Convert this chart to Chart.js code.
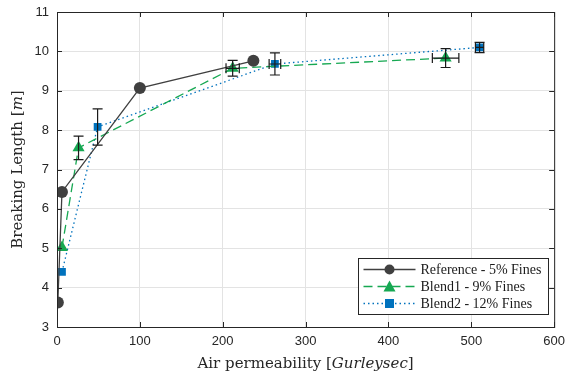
<!DOCTYPE html>
<html lang="en">
<head>
<meta charset="UTF-8">
<title>Breaking length vs air permeability</title>
<script src="https://cdn.jsdelivr.net/npm/chart.js"></script>
<style>
  body { margin: 0; background: #fff; }
  #wrap { width: 572px; height: 375px; }
</style>
</head>
<body>
<div id="wrap"><canvas id="myChart" width="572" height="375"></canvas></div>
<script>
// data
var seriesNames = ['Reference - 5% Fines', 'Blend1 - 9% Fines', 'Blend2 - 12% Fines'];

var refX = [1, 6, 100, 237];
var refY = [3.62, 6.43, 9.07, 9.76];

var b1X = [6, 26, 212, 469];
var b1Y = [5.02, 7.55, 9.57, 9.83];
var b1YErr = [0, 0.3, 0.2, 0.24];
var b1XErr = [0, 0, 8, 16];

var b2X = [6, 49, 263, 510];
var b2Y = [4.4, 8.08, 9.68, 10.1];
var b2YErr = [0, 0.46, 0.28, 0.13];
var b2XErr = [0, 0, 7, 5];

var xTicks = [0, 100, 200, 300, 400, 500, 600];
var yTicks = [3, 4, 5, 6, 7, 8, 9, 10, 11];

function pts(xs, ys) {
    return xs.map(function(x, i) { return { x: x, y: ys[i] }; });
}

var colors = ['#404040', '#16a852', '#0072bd'];
var dashes = [[], [9, 5], [1.5, 3]];
var shapes = ['circle', 'triangle', 'rect'];
var radii = [6, 7, 5.5];

// error bars drawn through the scales
var errorBars = {
    id: 'errorBars',
    afterDatasetsDraw: function(chart) {
        var c = chart.ctx, xs = chart.scales.x, ys = chart.scales.y;
        var sets = [[b1X, b1Y, b1XErr, b1YErr], [b2X, b2Y, b2XErr, b2YErr]];
        c.save();
        c.strokeStyle = '#1a1a1a';
        c.lineWidth = 1.2;
        sets.forEach(function(s) {
            for (var i = 0; i < s[0].length; i++) {
                var px = xs.getPixelForValue(s[0][i]);
                var py = ys.getPixelForValue(s[1][i]);
                c.beginPath();
                if (s[3][i] > 0) {
                    var t = ys.getPixelForValue(s[1][i] + s[3][i]);
                    var b = ys.getPixelForValue(s[1][i] - s[3][i]);
                    c.moveTo(px, t); c.lineTo(px, b);
                    c.moveTo(px - 5, t); c.lineTo(px + 5, t);
                    c.moveTo(px - 5, b); c.lineTo(px + 5, b);
                }
                if (s[2][i] > 0) {
                    var l = xs.getPixelForValue(s[0][i] - s[2][i]);
                    var r = xs.getPixelForValue(s[0][i] + s[2][i]);
                    c.moveTo(l, py); c.lineTo(r, py);
                    c.moveTo(l, py - 5); c.lineTo(l, py + 5);
                    c.moveTo(r, py - 5); c.lineTo(r, py + 5);
                }
                c.stroke();
            }
        });
        c.restore();
    }
};

// box, inward ticks, axis titles, legend
var frame = {
    id: 'frame',
    afterDraw: function(chart) {
        var c = chart.ctx, a = chart.chartArea, xs = chart.scales.x, ys = chart.scales.y;
        c.save();
        c.strokeStyle = '#262626';
        c.lineWidth = 1;
        c.strokeRect(a.left + 0.5, a.top + 0.5, a.right - a.left, a.bottom - a.top);
        c.beginPath();
        xTicks.forEach(function(v) {
            var p = Math.round(xs.getPixelForValue(v)) + 0.5;
            c.moveTo(p, a.bottom); c.lineTo(p, a.bottom - 5);
            c.moveTo(p, a.top); c.lineTo(p, a.top + 5);
        });
        yTicks.forEach(function(v) {
            var p = Math.round(ys.getPixelForValue(v)) + 0.5;
            c.moveTo(a.left, p); c.lineTo(a.left + 5, p);
            c.moveTo(a.right, p); c.lineTo(a.right - 5, p);
        });
        c.stroke();

        // axis titles with italic units
        c.fillStyle = '#262626';
        c.textBaseline = 'alphabetic';
        var serif = '"DejaVu Serif", "Liberation Serif", serif';
        function mixed(parts, x, y) {
            var w = 0;
            parts.forEach(function(p) { c.font = p[1] + ' 15px ' + serif; w += c.measureText(p[0]).width; });
            var cx = x - w / 2;
            c.textAlign = 'left';
            parts.forEach(function(p) {
                c.font = p[1] + ' 15px ' + serif;
                c.fillText(p[0], cx, y);
                cx += c.measureText(p[0]).width;
            });
        }
        mixed([['Air permeability [', 'normal'], ['Gurleysec', 'italic'], [']', 'normal']],
              (a.left + a.right) / 2, 368);
        c.save();
        c.translate(22, (a.top + a.bottom) / 2);
        c.rotate(-Math.PI / 2);
        mixed([['Breaking Length [', 'normal'], ['m', 'italic'], [']', 'normal']], 0, 0);
        c.restore();

        // legend box
        var lx = 358.5, ly = 258.5, lw = 190, lh = 56;
        c.fillStyle = '#fff';
        c.fillRect(lx, ly, lw, lh);
        c.strokeStyle = '#262626';
        c.strokeRect(lx, ly, lw, lh);
        c.font = '14px "Liberation Serif", "DejaVu Serif", serif';
        c.textAlign = 'left';
        c.textBaseline = 'middle';
        for (var i = 0; i < 3; i++) {
            var yy = ly + 11 + i * 17;
            c.strokeStyle = colors[i];
            c.lineWidth = 1.3;
            c.setLineDash(dashes[i]);
            c.beginPath();
            c.moveTo(lx + 5, yy); c.lineTo(lx + 57, yy);
            c.stroke();
            c.setLineDash([]);
            c.fillStyle = colors[i];
            var mx = lx + 31;
            c.beginPath();
            if (i === 0) {
                c.arc(mx, yy, 5, 0, Math.PI * 2);
            } else if (i === 1) {
                c.moveTo(mx, yy - 6); c.lineTo(mx + 6, yy + 5); c.lineTo(mx - 6, yy + 5); c.closePath();
            } else {
                c.rect(mx - 4.5, yy - 4.5, 9, 9);
            }
            c.fill();
            c.fillStyle = '#1a1a1a';
            c.fillText(seriesNames[i], lx + 62, yy + 1);
        }
        c.restore();
    }
};

var datasets = [pts(refX, refY), pts(b1X, b1Y), pts(b2X, b2Y)].map(function(d, i) {
    return {
        label: seriesNames[i],
        data: d,
        showLine: true,
        borderColor: colors[i],
        backgroundColor: colors[i],
        borderWidth: 1.3,
        borderDash: dashes[i],
        pointStyle: shapes[i],
        pointRadius: radii[i],
        pointHoverRadius: radii[i],
        pointBorderWidth: 0,
        tension: 0
    };
});

var ctx = document.getElementById('myChart');
var myChart = new Chart(ctx, {
    type: 'scatter',
    data: { datasets: datasets },
    options: {
        responsive: false,
        animation: false,
        events: [],
        layout: { padding: { top: 12, right: 16, left: 0, bottom: 0 } },
        plugins: { legend: { display: false }, tooltip: { enabled: false } },
        scales: {
            x: {
                type: 'linear', min: 0, max: 600,
                afterBuildTicks: function(s) { s.ticks = xTicks.map(function(v) { return { value: v }; }); },
                afterFit: function(s) { s.height = 48; },
                grid: { color: '#e3e3e3', drawTicks: false },
                border: { display: false },
                ticks: { padding: 7, color: '#262626', font: { family: '"Liberation Sans", Arial, sans-serif', size: 13 } }
            },
            y: {
                type: 'linear', min: 3, max: 11,
                afterBuildTicks: function(s) { s.ticks = yTicks.map(function(v) { return { value: v }; }); },
                afterFit: function(s) { s.width = 57; },
                grid: { color: '#e3e3e3', drawTicks: false },
                border: { display: false },
                ticks: { padding: 8, color: '#262626', font: { family: '"Liberation Sans", Arial, sans-serif', size: 13, lineHeight: 0.5 } }
            }
        }
    },
    plugins: [errorBars, frame]
});
</script>
</body>
</html>
